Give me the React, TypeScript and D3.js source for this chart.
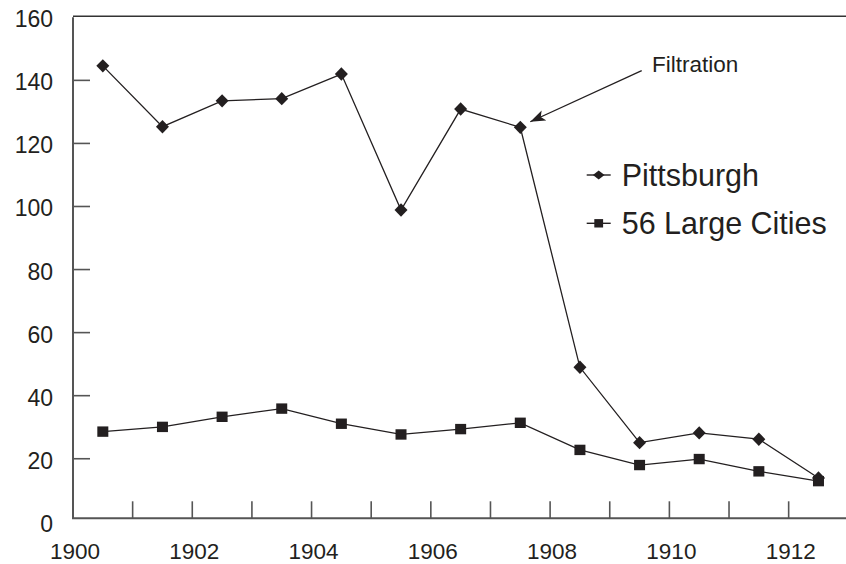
import React from "react";
import * as d3 from "d3";

const years = [1900, 1901, 1902, 1903, 1904, 1905, 1906, 1907, 1908, 1909, 1910, 1911, 1912];
const pittsburgh = [144.6, 125.3, 133.5, 134.2, 142.0, 98.9, 130.9, 125.1, 49.0, 25.1, 28.2, 26.2, 13.9];
const largeCities = [28.6, 30.1, 33.3, 35.9, 31.1, 27.7, 29.4, 31.4, 22.8, 18.0, 19.9, 16.0, 12.9];
const yTicks = [0, 20, 40, 60, 80, 100, 120, 140, 160];
const xLabelYears = [1900, 1902, 1904, 1906, 1908, 1910, 1912];
const xTickYears = [1901, 1902, 1903, 1904, 1905, 1906, 1907, 1908, 1909, 1910, 1911, 1912];
const seriesNames = ["Pittsburgh", "56 Large Cities"];
const annotationText = "Filtration";
const annotationYearIndex = 7;

const W = 846;
const H = 564;
const INK = "#231f20";
const AXIS = "#555555";
const FONT = "'Liberation Sans', Arial, Helvetica, sans-serif";

export default function App() {
  const x = d3.scaleLinear().domain([1900, 1913]).range([73, 848.3]);
  const y = d3.scaleLinear().domain([0, 160]).range([521.8, 17.3]);
  const xAxisY = y(0) - 3.5;
  const px = (i: number) => x(years[i] + 0.5);

  const line = d3
    .line<number>()
    .x((_, i) => px(i))
    .y((v) => y(v));

  const diamond = (cx: number, cy: number, hw: number, hh: number) =>
    `M${cx},${cy - hh}L${cx + hw},${cy}L${cx},${cy + hh}L${cx - hw},${cy}Z`;

  const ax = px(annotationYearIndex);
  const ay = y(pittsburgh[annotationYearIndex]);
  const tipX = ax + 10;
  const tipY = ay - 5.6;
  const startX = 641.7;
  const startY = 70.7;

  const legendX0 = 586.7;
  const legendX1 = 610.7;
  const legendY = [175, 223.3];

  return (
    <svg
      width={W}
      height={H}
      style={{ position: "absolute", left: 0, top: 0, background: "#fff" }}
      fontFamily={FONT}
    >
      <defs>
        <marker
          id="arrowHead"
          markerUnits="userSpaceOnUse"
          markerWidth={16}
          markerHeight={12}
          refX={15}
          refY={5.5}
          orient="auto"
        >
          <path d="M0,0 L15,5.5 L0,11 L3.5,5.5 Z" fill={INK} />
        </marker>
      </defs>

      {/* frame: y axis, top border, x axis */}
      <line x1={x(1900)} x2={x(1900)} y1={y(160)} y2={xAxisY} stroke={AXIS} strokeWidth={2} />
      <line x1={x(1900)} x2={W} y1={y(160) - 1} y2={y(160) - 1} stroke="#333" strokeWidth={1.5} />
      <line x1={x(1900) - 1} x2={W} y1={xAxisY} y2={xAxisY} stroke={AXIS} strokeWidth={2} />

      {/* y ticks */}
      {yTicks.filter((t) => t > 0 && t < 160).map((t) => (
        <line key={"yt" + t} x1={x(1900)} x2={x(1900) + 17} y1={y(t)} y2={y(t)} stroke={AXIS} strokeWidth={1.6} />
      ))}
      {yTicks.map((t) => (
        <text key={"yl" + t} x={53} y={y(t) + 10} textAnchor="end" fontSize={23} fill={INK}>
          {t}
        </text>
      ))}

      {/* x ticks */}
      {xTickYears.map((yr) => (
        <line key={"xt" + yr} x1={x(yr)} x2={x(yr)} y1={xAxisY} y2={xAxisY - 17} stroke={AXIS} strokeWidth={1.6} />
      ))}
      {xLabelYears.map((yr) => (
        <text key={"xl" + yr} x={x(yr) + 2} y={559} textAnchor="middle" fontSize={22.5} fill={INK}>
          {yr}
        </text>
      ))}

      {/* Pittsburgh */}
      <path d={line(pittsburgh) || ""} fill="none" stroke={INK} strokeWidth={1.3} />
      {pittsburgh.map((v, i) => (
        <path key={"p" + i} d={diamond(px(i), y(v), 6.5, 6.7)} fill={INK} />
      ))}

      {/* 56 Large Cities */}
      <path d={line(largeCities) || ""} fill="none" stroke={INK} strokeWidth={1.3} />
      {largeCities.map((v, i) => (
        <rect key={"c" + i} x={px(i) - 5.5} y={y(v) - 5.2} width={11} height={10.4} fill={INK} />
      ))}

      {/* annotation */}
      <line
        x1={startX}
        y1={startY}
        x2={tipX}
        y2={tipY}
        stroke={INK}
        strokeWidth={1.3}
        markerEnd="url(#arrowHead)"
      />
      <text x={652} y={72.3} fontSize={22.5} fill={INK}>
        {annotationText}
      </text>

      {/* legend */}
      <line x1={legendX0} x2={legendX1} y1={legendY[0]} y2={legendY[0]} stroke={INK} strokeWidth={1.4} />
      <path d={diamond((legendX0 + legendX1) / 2, legendY[0], 5.8, 4.6)} fill={INK} />
      <text x={621.7} y={legendY[0] + 10.5} fontSize={30.5} fill={INK}>
        {seriesNames[0]}
      </text>
      <line x1={legendX0} x2={legendX1} y1={legendY[1]} y2={legendY[1]} stroke={INK} strokeWidth={1.4} />
      <rect
        x={(legendX0 + legendX1) / 2 - 4.4}
        y={legendY[1] - 4.2}
        width={8.8}
        height={8.4}
        fill={INK}
      />
      <text x={621.7} y={legendY[1] + 10.5} fontSize={30.5} fill={INK}>
        {seriesNames[1]}
      </text>
    </svg>
  );
}
